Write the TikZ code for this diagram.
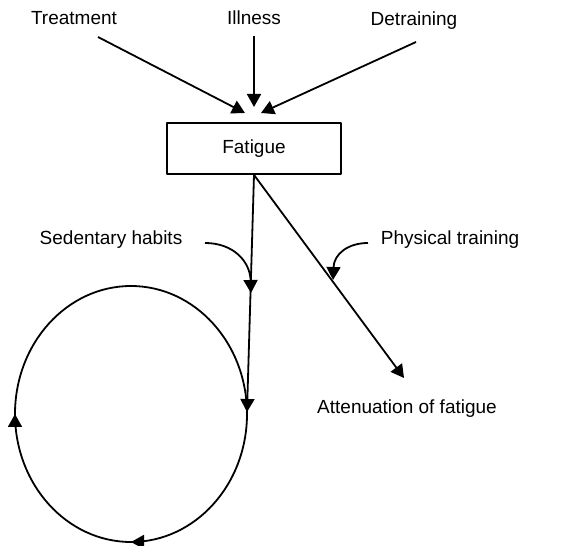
\documentclass[tikz,border=0pt]{standalone}
\usepackage{fontspec}
\setmainfont{Liberation Sans}
\usetikzlibrary{arrows.meta,decorations.markings,positioning}

\begin{document}
\begin{tikzpicture}[x=0.5pt,y=0.5pt,>={Triangle[length=6.5pt,width=7pt]},line join=bevel,
  lbl/.style={inner sep=0pt,anchor=base,font=\fontsize{9.5}{11}\selectfont},
  box/.style={draw,minimum width=87pt,minimum height=25.5pt,inner sep=0pt,font=\fontsize{9.5}{11}\selectfont}]
\pgfsetlinewidth{0.9pt}
\pgfsetcolor{black}
\useasboundingbox (0,0) rectangle (579,546);
% causes
\node[lbl] (treat) at (74,521) {Treatment};
\node[lbl] (ill) at (254,521) {Illness};
\node[lbl] (detr) at (414,520) {Detraining};
\node[box] (fatigue) at (254,397.5) {Fatigue};
\coordinate (treatS) at (98,509);
\coordinate (treatE) at (245,433);
\coordinate (illS) at (254,510);
\coordinate (illE) at (254,439);
\coordinate (detrS) at (416,504);
\coordinate (detrE) at (261,433);
 \draw [->] (treatS) -- (treatE);
 \draw [->] (illS) -- (illE);
 \draw [->] (detrS) -- (detrE);
% outcomes
\node[lbl] (sed) at (111,301) {Sedentary habits};
\node[lbl] (phys) at (450,301) {Physical training};
\node[lbl] (atten) at (407,132) {Attenuation of fatigue};
\coordinate (loopin) at (247,134);
\coordinate (attenE) at (404,168);
 \draw [->] (fatigue.south) -- (loopin);
 \draw [->] (fatigue.south) -- (attenE);
\coordinate (sedS) at (205,303);
\coordinate (sedE) at (251,253);
\coordinate (physS) at (368,303);
\coordinate (physE) at (333,266);
 \draw [->] (sedS) .. controls (233,303) and (250,285) .. (sedE);
 \draw [->] (physS) .. controls (348,303) and (334,292) .. (physE);
% vicious circle
 \draw [postaction={decorate},decoration={markings,
   mark=at position 0.25 with {\arrow{>}},
   mark=at position 0.5 with {\arrow{>}}}]
   (247,132) arc[start angle=0,end angle=-360,x radius=116,y radius=128];
\end{tikzpicture}
\end{document}
